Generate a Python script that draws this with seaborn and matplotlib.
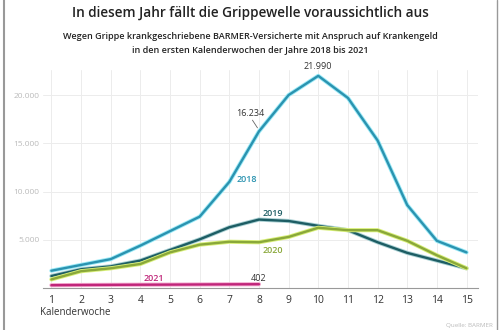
import matplotlib
matplotlib.use("Agg")
import matplotlib.pyplot as plt
import matplotlib.patheffects as pe
import seaborn as sns
import pandas as pd

weeks = list(range(1, 16))
v2018 = [1800, 2400, 3000, 4400, 5900, 7400, 11000, 16234, 20000, 21990, 19700, 15300, 8600, 4900, 3700]
v2019 = [1250, 1950, 2250, 2850, 3950, 5050, 6300, 7100, 6950, 6450, 6000, 4750, 3650, 2850, 2050]
v2020 = [900, 1750, 2050, 2500, 3700, 4500, 4800, 4750, 5300, 6250, 6000, 6000, 4900, 3400, 2050]
weeks2021 = list(range(1, 9))
v2021 = [300, 320, 335, 350, 360, 375, 390, 402]
yticks = [5000, 10000, 15000, 20000]
ytick_labels = ["5.000", "10.000", "15.000", "20.000"]

title = "In diesem Jahr fällt die Grippewelle voraussichtlich aus"
subtitle = ("Wegen Grippe krankgeschriebene BARMER-Versicherte mit Anspruch auf Krankengeld\n"
            "in den ersten Kalenderwochen der Jahre 2018 bis 2021")

sns.set_theme(style="white")
plt.rcParams["font.family"] = ["Open Sans", "DejaVu Sans"]

fig = plt.figure(figsize=(5, 3.3), dpi=100)
ax = fig.add_axes([0.085, 0.127, 0.87, 0.661])

series = [
    ("2018", weeks, v2018, "#2b93b0", "#9aeaf7"),
    ("2019", weeks, v2019, "#1d5d64", "#a9d0d3"),
    ("2020", weeks, v2020, "#8aa83a", "#d9f07a"),
    ("2021", weeks2021, v2021, "#c0267a", "#f4aacf"),
]
for name, x, y, c, halo in series:
    df = pd.DataFrame({"w": x, "v": y})
    sns.lineplot(data=df, x="w", y="v", ax=ax, color=c, lw=1.7,
                 path_effects=[pe.Stroke(linewidth=3.0, foreground=halo), pe.Normal()])

ax.set_xlim(0.7, 15.37)
ax.set_ylim(0, 22600)
ax.set_xticks(weeks)
ax.set_xticklabels([str(w) for w in weeks], fontsize=7.5, color="#333333")
ax.set_yticks(yticks)
ax.set_yticklabels(ytick_labels, fontsize=6, color="#bbbbbb")
ax.tick_params(axis="x", length=0, pad=5)
ax.tick_params(axis="y", length=0, pad=2)
ax.grid(True, color="#ececec", lw=0.7)
for s in ["top", "right", "left"]:
    ax.spines[s].set_visible(False)
ax.spines["bottom"].set_color("#999999")
ax.spines["bottom"].set_linewidth(0.8)
ax.set_xlabel("")
ax.set_ylabel("")

ax.text(7.6, 11200, "2018", color="#2b93b0", fontsize=6.5, fontweight="semibold", ha="center", va="center")
ax.text(8.48, 7770, "2019", color="#1d5d64", fontsize=6.5, fontweight="semibold", ha="center", va="center")
ax.text(8.48, 3940, "2020", color="#8aa83a", fontsize=6.5, fontweight="semibold", ha="center", va="center")
ax.text(4.47, 1040, "2021", color="#c0267a", fontsize=6.5, fontweight="semibold", ha="center", va="center")
ax.text(7.97, 1040, "402", color="#333333", fontsize=6.5, ha="center", va="center")
ax.text(7.7, 18100, "16.234", color="#333333", fontsize=6.5, ha="center", va="center")
ax.plot([7.78, 7.95], [17400, 16600], color="#666666", lw=0.6)
ax.text(10, 23000, "21.990", color="#333333", fontsize=6.5, ha="center", va="center", clip_on=False)
ax.text(0.6, -2500, "Kalenderwoche", color="#333333", fontsize=7, ha="left", va="center", clip_on=False)

fig.text(0.5, 0.962, title, ha="center", va="center", fontsize=9.8, fontweight="semibold", color="#222222")
fig.text(0.5, 0.87, subtitle, ha="center", va="center", fontsize=6.5, fontweight="semibold",
         color="#222222", linespacing=1.5)
fig.text(0.985, 0.005, "Quelle: BARMER", ha="right", va="bottom", fontsize=4.5, color="#bbbbbb")

fig.add_artist(plt.Line2D([0.007, 0.007], [0, 1], color="#999999", lw=1.5, transform=fig.transFigure))
fig.add_artist(plt.Line2D([0.993, 0.993], [0, 1], color="#999999", lw=1.0, transform=fig.transFigure))

fig.savefig("out.png", dpi=100)
